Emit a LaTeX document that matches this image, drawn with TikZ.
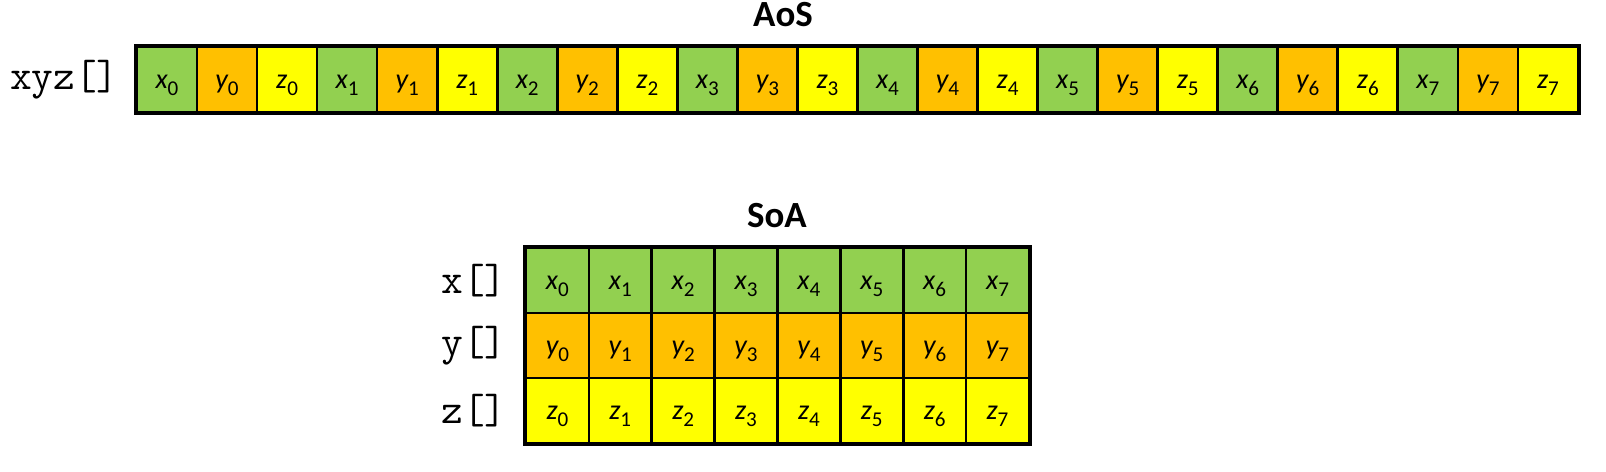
\documentclass[tikz,border=0pt]{standalone}
\usepackage{fontspec}
\setmainfont{Carlito}
\usepackage{tikz}

\definecolor{xgreen}{RGB}{146,208,80}
\definecolor{yorange}{RGB}{255,192,0}
\definecolor{zyellow}{RGB}{255,255,0}
\newcommand{\elem}[2]{#1\raisebox{-0.13cm}{\fontsize{12}{14}\selectfont\upshape #2}}

\begin{document}
\begin{tikzpicture}[x=0.02cm, y=0.02cm, every node/.style={inner sep=0pt},
    cell/.style={rectangle, draw, line width=1.5pt, minimum height=1.3cm, text height=0.45cm, text depth=0.07cm, font=\fontsize{16}{19}\selectfont\itshape},
    arr/.style={anchor=east, font=\fontsize{24}{28}\selectfont\ttfamily},
    title/.style={font=\fontsize{21}{25}\selectfont\bfseries}]
    \useasboundingbox (0,0) rectangle (1606,472);
    \node[title] (aos) at (783,457) {AoS};
    \node[title] (soa) at (777,256.5) {SoA};
    \node[arr] (xyz) at (119,392.5) {xyz[]};
    \foreach \k in {0,...,7}
      \foreach \v/\c [count=\j from 0] in {x/xgreen, y/yorange, z/zyellow}
        \node[cell, fill=\c, minimum width=1.2cm] (aos-\v\k) at ({167+60.04*(3*\k+\j)},392.5) {\elem{\v}{\k}};
    \draw[line width=2pt] (aos-x0.north west) rectangle (aos-z7.south east);
    \foreach \v/\c/\yy in {x/xgreen/191.5, y/yorange/126.5, z/zyellow/61.5} {
      \node[arr] (soa-\v) at (507,\yy) {\v[]};
      \foreach \k in {0,...,7}
        \node[cell, fill=\c, minimum width=1.2575cm] (soa-\v\k) at ({557.4+62.875*\k},\yy) {\elem{\v}{\k}};
    }
    \draw[line width=2pt] (soa-x0.north west) rectangle (soa-z7.south east);
  \end{tikzpicture}
\end{document}
